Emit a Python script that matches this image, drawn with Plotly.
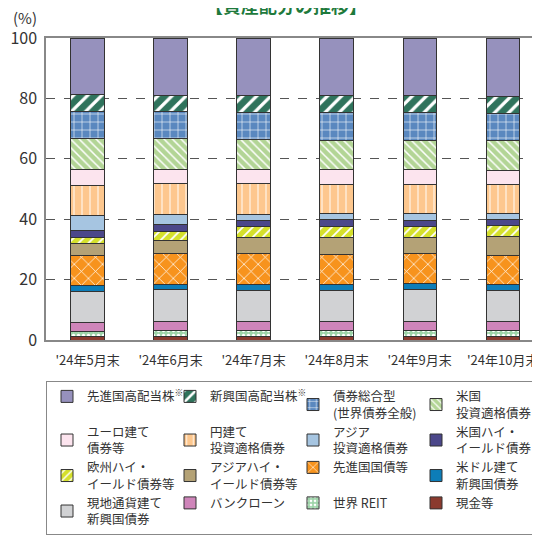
import plotly.graph_objects as go

months = ["'24年5月末", "'24年6月末", "'24年7月末", "'24年8月末", "'24年9月末", "'24年10月末"]

# legend order (top of stack first)
names = [
    "先進国高配当株<sup>※</sup>",
    "新興国高配当株<sup>※</sup>",
    "債券総合型<br>(世界債券全般)",
    "米国<br>投資適格債券",
    "ユーロ建て<br>債券等",
    "円建て<br>投資適格債券",
    "アジア<br>投資適格債券",
    "米国ハイ・<br>イールド債券",
    "欧州ハイ・<br>イールド債券等",
    "アジアハイ・<br>イールド債券等",
    "先進国国債等",
    "米ドル建て<br>新興国債券",
    "現地通貨建て<br>新興国債券",
    "バンクローン",
    "世界 REIT",
    "現金等",
]

dev_high_div = [18.6, 19.0, 19.1, 19.2, 19.2, 19.3]
em_high_div = [5.6, 5.5, 5.5, 5.4, 5.6, 5.6]
aggregate_bond = [9.0, 8.9, 8.9, 9.2, 9.0, 8.9]
us_ig = [10.5, 10.1, 10.0, 9.8, 9.9, 10.0]
euro_bond = [5.0, 4.8, 4.8, 4.8, 4.9, 4.8]
yen_ig = [10.1, 10.0, 10.1, 9.6, 9.6, 9.4]
asia_ig = [5.1, 3.6, 2.0, 2.2, 2.1, 2.0]
us_hy = [2.1, 2.1, 1.9, 2.1, 2.1, 2.0]
eu_hy = [2.0, 3.0, 3.7, 3.8, 3.6, 3.8]
asia_hy = [4.0, 4.4, 5.5, 5.5, 5.5, 6.1]
dev_gov = [9.9, 10.1, 10.1, 10.0, 9.7, 9.7]
usd_em = [1.9, 1.9, 2.0, 2.0, 2.0, 2.1]
local_em = [10.3, 10.4, 10.2, 10.2, 10.6, 10.1]
bank_loan = [3.1, 3.1, 3.1, 3.1, 3.1, 3.1]
reit = [1.8, 2.0, 2.1, 2.1, 2.1, 2.1]
cash = [1.0, 1.1, 1.0, 1.0, 1.0, 1.0]

values = [dev_high_div, em_high_div, aggregate_bond, us_ig, euro_bond, yen_ig, asia_ig,
          us_hy, eu_hy, asia_hy, dev_gov, usd_em, local_em, bank_loan, reit, cash]

colors = ["#9691BD", "#2F735C", "#5A88BF", "#B3D596", "#FCE4EE", "#FDC78E", "#A6C5E1",
          "#4B478A", "#D5E02B", "#B4A276", "#F7931D", "#0D7DB8", "#D1D2D4", "#CF85BA",
          "#9ED4A9", "#8B3A2E"]

# pattern: (shape, size, solidity)
patterns = [None, ("/", 10, 0.32), ("+", 8, 0.14), ("\\", 6, 0.25), None, ("|", 8, 0.12), None,
            None, ("/", 7, 0.25), None, ("x", 10, 0.14), None, None, None, (".", 5, 0.35), None]

fig = go.Figure()
n = len(names)
for i in reversed(range(n)):
    marker = dict(color=colors[i], line=dict(color="#333333", width=1))
    p = patterns[i]
    if p:
        marker["pattern"] = dict(shape=p[0], size=p[1], solidity=p[2],
                                 fgcolor="white", bgcolor=colors[i], fillmode="replace")
    fig.add_trace(go.Bar(x=months, y=values[i], name=names[i], marker=marker,
                         width=0.4, legendrank=i + 1))

fig.update_layout(
    width=532, height=531,
    margin=dict(l=38, r=0, t=30, b=199, autoexpand=False),
    barmode="stack",
    plot_bgcolor="white", paper_bgcolor="white",
    font=dict(family="Noto Sans CJK JP", color="#333333"),
    showlegend=True,
    legend=dict(orientation="h", x=0, xanchor="left", y=-0.135, yanchor="top",
                traceorder="normal", entrywidth=78, entrywidthmode="pixels",
                font=dict(size=12.5, color="#333333"), bordercolor="#888888", borderwidth=1,
                itemwidth=30, tracegroupgap=0, valign="middle"),
)
fig.update_xaxes(range=[-0.5, 5.45], showline=True, linecolor="#888888", linewidth=1.5,
                 mirror=True, tickfont=dict(size=13, color="#333333"), ticks="",
                 ticklabelstandoff=8, fixedrange=True)
fig.update_yaxes(range=[0, 100], dtick=20, showline=True, linecolor="#888888", linewidth=1.5,
                 showgrid=True, gridcolor="#555555", griddash="dash", gridwidth=1.2,
                 tickfont=dict(size=16, color="#333333"), ticks="", ticklabelstandoff=4,
                 zeroline=False)
fig.add_annotation(text="(%)", xref="paper", yref="paper", x=-0.0425, y=1.0695,
                   xanchor="center", yanchor="middle",
                   showarrow=False, font=dict(size=15, color="#333333"))
fig.add_annotation(text="<b>【資産配分の推移】</b>", xref="paper", yref="paper", x=0.485, y=1.06,
                   xanchor="center", yanchor="bottom", showarrow=False,
                   font=dict(size=18, color="#1E7A3C"))

fig.write_html("out.html")
